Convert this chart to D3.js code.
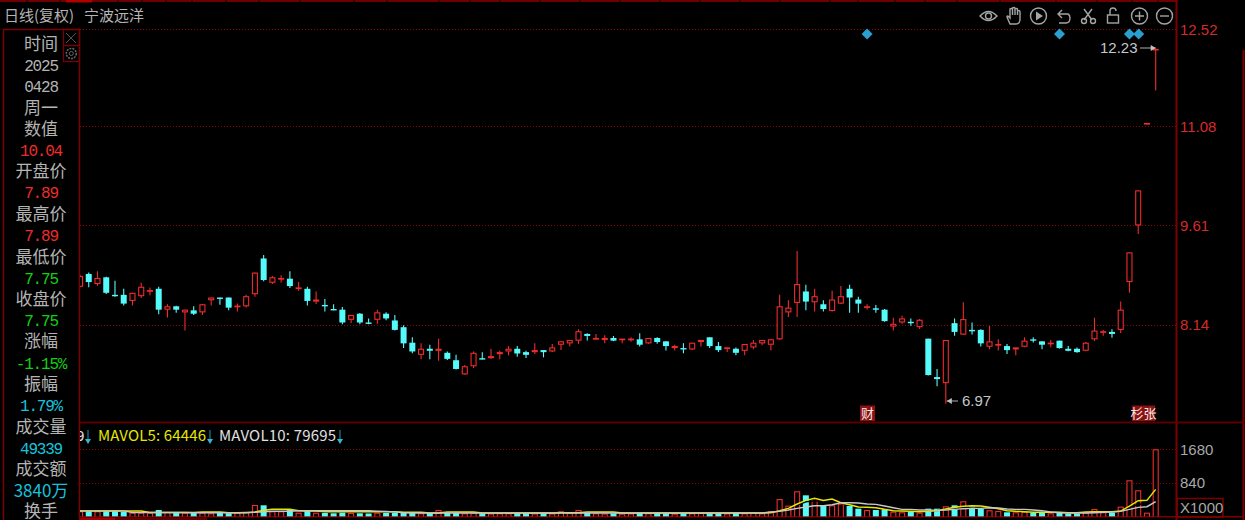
<!DOCTYPE html>
<html><head><meta charset="utf-8">
<script src="https://cdnjs.cloudflare.com/ajax/libs/d3/7.8.5/d3.min.js"></script>
<style>
html,body{margin:0;padding:0;background:#000;overflow:hidden}
svg{display:block}
text{font-family:"Noto Sans CJK SC","Liberation Sans",sans-serif}
</style></head><body>
<svg id="c" width="1245" height="520"></svg>
<script>
const opens=[8.70,8.89,8.74,8.84,8.58,8.58,8.49,8.56,8.63,8.67,
8.36,8.41,8.32,8.35,8.32,8.50,8.54,8.54,8.40,8.41,
8.59,9.12,8.76,8.82,8.82,8.67,8.67,8.48,8.43,8.37,
8.36,8.21,8.30,8.17,8.21,8.30,8.20,8.10,7.87,7.69,
7.78,7.75,7.72,7.61,7.40,7.52,7.64,7.64,7.70,7.74,
7.78,7.73,7.73,7.76,7.74,7.84,7.86,7.90,8.00,7.92,
7.91,7.94,7.91,7.91,7.92,7.86,7.94,7.89,7.79,7.79,
7.77,7.88,7.95,7.82,7.78,7.78,7.75,7.80,7.86,7.84,
7.92,8.32,8.46,8.63,8.47,8.44,8.34,8.45,8.67,8.51,
8.39,8.38,8.36,8.11,8.17,8.18,8.10,7.93,7.36,7.27,
8.16,7.99,8.06,8.06,7.81,7.83,7.82,7.77,7.81,7.92,
7.89,7.85,7.90,7.78,7.78,7.75,7.92,8.02,8.03,8.06,
8.77,9.61,11.13,12.21];
const closes=[8.86,8.77,8.83,8.61,8.56,8.45,8.61,8.70,8.65,8.36,
8.41,8.36,8.36,8.30,8.44,8.54,8.53,8.39,8.42,8.56,
8.91,8.80,8.84,8.83,8.71,8.69,8.49,8.51,8.41,8.36,
8.17,8.28,8.17,8.15,8.32,8.23,8.06,7.86,7.74,7.78,
7.75,7.78,7.63,7.48,7.52,7.72,7.63,7.67,7.73,7.78,
7.71,7.69,7.76,7.73,7.80,7.89,7.91,8.04,7.97,7.94,
7.94,7.90,7.93,7.93,7.84,7.94,7.88,7.82,7.82,7.77,
7.87,7.91,7.82,7.76,7.80,7.72,7.85,7.87,7.91,7.92,
8.41,8.39,8.74,8.48,8.56,8.37,8.51,8.56,8.54,8.45,
8.41,8.36,8.19,8.15,8.23,8.16,8.21,7.39,7.33,7.91,
8.03,8.22,8.04,7.86,7.89,7.85,7.76,7.80,7.90,7.90,
7.84,7.87,7.79,7.75,7.73,7.87,8.05,8.04,8.00,8.36,
9.21,10.13,11.13,12.23];
const highs=[8.88,8.91,8.93,8.85,8.79,8.67,8.61,8.76,8.69,8.70,
8.44,8.42,8.36,8.41,8.44,8.54,8.54,8.54,8.45,8.58,
8.91,9.17,8.86,8.87,8.93,8.77,8.70,8.63,8.52,8.44,
8.40,8.28,8.31,8.23,8.36,8.32,8.28,8.13,7.95,7.86,
7.84,7.93,7.74,7.69,7.54,7.74,7.73,7.78,7.75,7.82,
7.82,7.75,7.86,7.76,7.85,7.89,7.91,8.07,8.01,8.00,
7.98,7.97,7.93,7.95,8.01,7.94,7.95,7.89,7.84,7.86,
7.87,7.91,7.95,7.88,7.80,7.80,7.85,7.91,7.91,7.92,
8.58,8.50,9.23,8.73,8.67,8.50,8.64,8.71,8.73,8.55,
8.44,8.43,8.37,8.24,8.27,8.23,8.22,7.93,7.48,7.91,
8.23,8.47,8.17,8.07,8.12,7.92,7.85,7.80,7.95,7.95,
7.89,7.91,7.90,7.82,7.80,7.88,8.24,8.06,8.07,8.48,
9.21,10.13,11.13,12.23];
const lows=[8.70,8.70,8.72,8.60,8.56,8.43,8.43,8.54,8.58,8.30,
8.25,8.32,8.06,8.29,8.29,8.43,8.44,8.36,8.34,8.40,
8.56,8.79,8.75,8.77,8.69,8.65,8.43,8.45,8.34,8.36,
8.15,8.17,8.15,8.15,8.16,8.21,8.06,7.80,7.72,7.63,
7.63,7.61,7.62,7.48,7.40,7.50,7.63,7.64,7.63,7.69,
7.67,7.65,7.71,7.66,7.74,7.77,7.82,7.86,7.91,7.92,
7.87,7.90,7.87,7.89,7.82,7.86,7.86,7.76,7.76,7.72,
7.77,7.82,7.80,7.74,7.74,7.69,7.69,7.78,7.84,7.76,
7.92,8.26,8.26,8.36,8.34,8.34,8.34,8.45,8.32,8.32,
8.37,8.32,8.19,8.06,8.16,8.13,8.08,7.39,7.23,6.97,
7.98,7.99,8.00,7.82,7.78,7.76,7.71,7.69,7.81,7.88,
7.78,7.81,7.79,7.75,7.73,7.75,7.90,7.98,7.95,8.02,
8.62,9.49,11.13,11.62];
const volumes=[135,135,135,135,135,117,100,100,100,167,
117,100,100,100,100,85,100,85,100,117,
292,284,135,135,167,100,140,100,92,85,
100,92,85,80,100,92,100,110,100,85,
92,167,100,92,85,92,85,80,85,85,
92,85,80,85,80,135,92,167,92,85,
80,85,75,80,92,85,92,85,75,85,
85,92,85,85,80,92,85,100,85,135,
440,275,633,533,416,267,284,317,267,200,
167,167,184,125,110,117,100,200,200,259,
284,384,267,192,160,142,110,110,125,92,
92,85,100,75,75,100,192,110,100,250,
907,658,100,1680];
const mavol5=[142,142,142,142,142,142,142,142,105,105,
105,105,105,105,118,118,118,100,100,100,
120,160,184,184,184,150,142,142,125,125,
125,125,125,125,125,125,125,110,110,110,
92,92,117,117,117,117,92,92,92,92,
92,92,92,92,92,100,100,100,117,117,
117,117,92,92,92,92,92,92,92,92,
92,92,92,92,92,92,92,92,92,100,
150,208,316,407,457,407,441,349,299,241,
233,224,183,150,141,133,125,133,150,191,
233,258,274,266,233,200,150,133,125,108,
108,108,108,100,100,116,125,125,125,141,
266,399,407,681];
const mavol10=[145,145,145,145,145,145,105,105,105,105,
105,105,105,100,100,100,100,100,100,105,
110,125,135,135,135,150,150,150,150,150,
150,150,150,150,140,130,120,100,92,92,
92,92,92,92,92,92,92,92,92,92,
92,92,92,92,92,92,92,92,92,92,
92,92,92,92,92,92,92,92,92,92,
92,92,92,92,92,92,92,92,92,116,
133,166,208,241,274,274,299,349,349,341,
316,308,266,224,183,183,166,166,158,166,
183,200,208,208,224,216,191,183,183,166,
150,116,100,92,92,92,100,108,116,133,
183,233,249,374];
const mavolThird=[...Array(82).fill(null),
290,370,400,385,390,325,325,300,
290,280,240,190,160,160,145,150,155,180,
200,225,240,240,230,210,170,160,155,135,
130,null,null,null,null,null,null,null,null,136,
225,310,325,null];
const priceTicks=[12.52,11.08,9.61,8.14];
const volumeTicks=[1680,840];
const sideLabels=[["时间",44,"l"],["2025",65,"n"],["0428",86,"n"],["周一",108,"l"],["数值",129,"l"],["10.04",150,"r"],
["开盘价",171,"l"],["7.89",192,"r"],["最高价",214,"l"],["7.89",235,"r"],["最低价",257,"l"],["7.75",278,"g"],
["收盘价",299,"l"],["7.75",320,"g"],["涨幅",341,"l"],["-1.15%",363,"g"],["振幅",384,"l"],["1.79%",405,"c"],
["成交量",427,"l"],["49339",448,"c"],["成交额",469,"l"],["3840万",491,"c"],["换手",511,"l"]];
const diamondIndex=[90,112,120,121];
const diamondPrice=12.45;

const DR="#7d0000", GRID="#8a0505", RED="#ee2c2c", CY="#55fbfb";
const svg=d3.select("#c");
const defs=svg.append("defs");
defs.append("clipPath").attr("id","pc").append("rect").attr("x",80).attr("y",24).attr("width",1096).attr("height",398);
defs.append("clipPath").attr("id","vc").append("rect").attr("x",80).attr("y",424).attr("width",1096).attr("height",92.5);

const x=d3.scaleLinear().domain([0,123]).range([80,1155.7]);
const y=d3.scaleLinear().domain([8.14,12.52]).range([324.5,29.3]);
const yv=d3.scaleLinear().domain([0,1680]).range([516.7,449.3]);
const idx=d3.range(opens.length);
const up=i=>closes[i]>=opens[i];
const W=6;

// frame
const line=(x1,y1,x2,y2,c,w)=>svg.append("line").attr("x1",x1).attr("y1",y1).attr("x2",x2).attr("y2",y2).attr("stroke",c).attr("stroke-width",w);
line(0,1,1176,1,"#6e0000",2);
line(66,1,92,1,"#b00000",3);
[27,60,118,142,166,192,226,259,300,354,387,439,470,500,540,580,620,660,700,740,780,830,858,895,925,957,1000,1056,1097,1132,1158].forEach(v=>line(v,0,v,3,"#000",1));
line(3.5,29,3.5,520,DR,1.5);
line(3,29.5,80,29.5,DR,1.5);
line(79.5,29,79.5,520,DR,1.5);
line(1176.5,0,1176.5,520,DR,2);
line(1243.5,50,1243.5,520,DR,2);
line(80,422.5,1244,422.5,"#5a0000",2);
line(80,516.8,1244,516.8,DR,1.5);
svg.append("rect").attr("x",80).attr("y",517.5).attr("width",35).attr("height",3).attr("fill","#a00000");
svg.append("rect").attr("x",115).attr("y",517.5).attr("width",92).attr("height",3).attr("fill","#600000");

// grid
priceTicks.forEach(t=>line(80,Math.round(y(t))+.5,1176,Math.round(y(t))+.5,GRID,1).attr("stroke-dasharray","1 2"));
volumeTicks.forEach(t=>line(80,Math.round(yv(t))+.5,1176,Math.round(yv(t))+.5,GRID,1).attr("stroke-dasharray","1 2"));
line(80,29.5,1176,29.5,GRID,1).attr("stroke-dasharray","1 2");

// axes
const pa=svg.append("g").attr("transform","translate(1180,0)").call(d3.axisRight(y).tickValues(priceTicks).tickSize(0).tickPadding(0).tickFormat(d3.format(".2f")));
pa.select(".domain").remove();
pa.selectAll("text").attr("fill","#d62a2a").attr("font-size",15).style("font-family","Liberation Sans").attr("x",0);
const va=svg.append("g").attr("transform","translate(1180,0)").call(d3.axisRight(yv).tickValues(volumeTicks).tickSize(0).tickPadding(0));
va.select(".domain").remove();
va.selectAll("text").attr("fill","#a8a8a8").attr("font-size",15).style("font-family","Liberation Sans").attr("x",0).text(d=>d);
svg.append("rect").attr("x",1177).attr("y",498.5).attr("width",46).attr("height",18.5).attr("fill","none").attr("stroke",DR).attr("stroke-width",1.5);
svg.append("text").attr("x",1180).attr("y",513).attr("fill","#a8a8a8").attr("font-size",15).style("font-family","Liberation Sans").text("X1000");

// candles
const cg=svg.append("g").attr("clip-path","url(#pc)");
cg.selectAll("line.w").data(idx).join("line").attr("class","w")
  .attr("x1",i=>x(i)).attr("x2",i=>x(i)).attr("y1",i=>y(highs[i])).attr("y2",i=>y(lows[i])+.5)
  .attr("stroke",i=>up(i)?RED:CY).attr("stroke-width",1.1);
cg.selectAll("rect.b").data(idx).join("rect").attr("class","b")
  .attr("x",i=>x(i)-W/2+(up(i)?.5:0)).attr("width",i=>up(i)?W-1:W)
  .attr("y",i=>y(Math.max(opens[i],closes[i]))+(up(i)?.5:0))
  .attr("height",i=>{const h=y(Math.min(opens[i],closes[i]))-y(Math.max(opens[i],closes[i]));return up(i)?Math.max(h-1,.6):Math.max(h,1.4);})
  .attr("fill",i=>up(i)?"#000":CY)
  .attr("stroke",i=>up(i)?RED:"none").attr("stroke-width",1.1);

// diamonds
svg.selectAll("path.d").data(diamondIndex).join("path").attr("class","d")
  .attr("transform",i=>`translate(${x(i)+(i===121?.5:0)},${y(diamondPrice)})`)
  .attr("d","M0-5.5L5.5 0L0 5.5L-5.5 0Z").attr("fill","#2a9fd0");

// volume
const vg=svg.append("g").attr("clip-path","url(#vc)");
vg.selectAll("rect").data(idx).join("rect")
  .attr("x",i=>x(i)-W/2+(up(i)?.5:0)).attr("width",i=>up(i)?W-1:W)
  .attr("y",i=>yv(volumes[i])+(up(i)?.5:0))
  .attr("height",i=>yv(0)-yv(volumes[i]))
  .attr("fill",i=>up(i)?"#000":CY)
  .attr("stroke",i=>up(i)?RED:"none").attr("stroke-width",1.1);
const ln=a=>d3.line().defined(i=>a[i]!=null).x(i=>x(i)).y(i=>yv(a[i]))(idx);
vg.append("path").attr("d",ln(mavolThird)).attr("fill","none").attr("stroke","#000").attr("stroke-width",1.5);
vg.append("path").attr("d",ln(mavol5)).attr("fill","none").attr("stroke","#e6e600").attr("stroke-width",1.5);
vg.append("path").attr("d",ln(mavol10)).attr("fill","none").attr("stroke","#c8c8c8").attr("stroke-width",1.4);

// legend
const lg=svg.append("g").style("font-family","Liberation Sans").attr("font-size",15);
const clipT=svg.append("g").attr("clip-path","url(#vc)");
clipT.append("text").attr("x",76).attr("y",441).attr("fill","#e0e0e0").attr("font-size",15).style("font-family","Liberation Sans").text("9");
lg.append("text").attr("x",98).attr("y",441).attr("fill","#e6e600").attr("textLength",108).text("MAVOL5: 64446");
lg.append("text").attr("x",219).attr("y",441).attr("fill","#e0e0e0").attr("textLength",117).text("MAVOL10: 79695");
[88,210,340].forEach(v=>{
  line(v,430,v,441,"#1a7f96",1.2);
  svg.append("path").attr("d",`M${v-3} 439L${v+3} 439L${v} 444Z`).attr("fill","#35b4d8");
});

// price callouts
const callout=(tx,ty,str,x1,x2)=>{
  svg.append("text").attr("x",tx).attr("y",ty).attr("fill","#c4c8cc").attr("font-size",15).style("font-family","Liberation Sans").text(str);
  line(x1,ty-5,x2,ty-5,"#b0b0b0",1);
  const dir=x2>x1?-1:1;
  svg.append("path").attr("d",`M${x2} ${ty-5}l${dir*5} -3v6Z`).attr("fill","#c0c0c0");
};
callout(1100,53,"12.23",1140,x(123));
callout(962,406,"6.97",958,x(99)+1);

// markers
const mark=(mx,mw,str)=>{
  svg.append("rect").attr("x",mx).attr("y",405.5).attr("width",mw).attr("height",15.5).attr("fill","#8c1010");
  svg.append("text").attr("x",mx+mw/2).attr("y",418).attr("text-anchor","middle").attr("fill","#f4e8e8").attr("font-size",13).text(str);
};
mark(860,15,"财");
mark(1132,23,"杉张");

// header
svg.append("text").attr("x",4).attr("y",21).attr("fill","#b4b4b4").attr("font-size",15).text("日线(复权)");
svg.append("text").attr("x",84).attr("y",21).attr("fill","#b4b4b4").attr("font-size",15).text("宁波远洋");

// side panel
const col={l:"#b4b4b4",n:"#b4b4b4",r:"#ee2c2c",g:"#12d012",c:"#14c4dc"};
svg.selectAll("text.s").data(sideLabels).join("text").attr("class","s")
  .attr("x",41).attr("y",d=>d[1]+6).attr("text-anchor","middle")
  .attr("fill",d=>col[d[2]])
  .attr("font-size",d=>/[\u4e00-\u9fff]/.test(d[0])?17:16)
  .style("font-family",d=>/[\u4e00-\u9fff]/.test(d[0])?'"Noto Sans CJK SC"':'"Liberation Mono"')
  .style("letter-spacing",d=>/[\u4e00-\u9fff]/.test(d[0])?"0":"-1.2px")
  .text(d=>d[0]);
// close + gear boxes
svg.append("rect").attr("x",63.5).attr("y",29.5).attr("width",16).attr("height",16).attr("fill","none").attr("stroke",DR).attr("stroke-width",1.2);
svg.append("rect").attr("x",63.5).attr("y",45.5).attr("width",16).attr("height",16).attr("fill","none").attr("stroke",DR).attr("stroke-width",1.2);
svg.append("path").attr("d","M66 33L76 43M76 33L66 43").attr("stroke","#555").attr("fill","none");
svg.append("circle").attr("cx",71.3).attr("cy",53.5).attr("r",5).attr("fill","none").attr("stroke","#666").attr("stroke-width",1.5).attr("stroke-dasharray","2 1");
svg.append("circle").attr("cx",71.3).attr("cy",53.5).attr("r",2).attr("fill","none").attr("stroke","#666");

// toolbar icons
const ic=svg.append("g").attr("fill","none").attr("stroke","#a4a4a4").attr("stroke-width",1.4);
ic.append("path").attr("d","M980 16Q988.5 7 997 16Q988.5 25 980 16Z");
ic.append("circle").attr("cx",988.5).attr("cy",16).attr("r",3);
ic.append("path").attr("d","M1010 24L1007 17Q1007 15 1009 17L1010 18V9Q1012 8 1012.5 9V15V8Q1014.5 7 1015 8V15V9Q1017 8 1017.5 9V15V11Q1020 10 1020 12V19Q1020 24 1016 24Z");
ic.append("circle").attr("cx",1038.5).attr("cy",16).attr("r",8);
svg.append("path").attr("d","M1036 11.5L1043 16L1036 20.5Z").attr("fill","#a4a4a4");
ic.append("path").attr("d","M1058 14H1068Q1070 15 1070 18Q1070 23 1066 23H1059M1062 10L1058 14L1062 18");
ic.append("path").attr("d","M1084 9L1092 20M1092 9L1084 20");
ic.append("circle").attr("cx",1084).attr("cy",21).attr("r",2.5);
ic.append("circle").attr("cx",1093).attr("cy",21).attr("r",2.5);
ic.append("rect").attr("x",1107.5).attr("y",15).attr("width",11).attr("height",8);
ic.append("path").attr("d","M1110 15V11Q1110 8 1113 8Q1116 8 1116 11");
ic.append("circle").attr("cx",1139.5).attr("cy",16).attr("r",8);
ic.append("path").attr("d","M1135 16H1144M1139.5 11.5V20.5");
ic.append("circle").attr("cx",1164.5).attr("cy",16).attr("r",8);
ic.append("path").attr("d","M1160 16H1169");
</script></body></html>
